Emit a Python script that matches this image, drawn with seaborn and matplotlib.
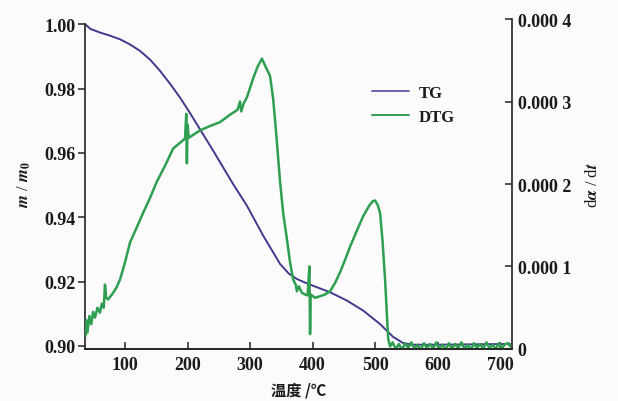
import matplotlib
matplotlib.use("Agg")
import matplotlib.pyplot as plt
from matplotlib.lines import Line2D
import seaborn as sns
import pandas as pd

# ---------------- data ----------------
tg_temp = [36, 45, 60, 75, 92, 108, 124, 140, 156, 172, 188, 202, 215, 228, 241,
           257, 273, 295, 321, 348, 362, 375, 388, 401, 428, 455, 481, 508, 529,
           545, 560, 600, 650, 700, 716]
tg_mass = [1.000, 0.9985, 0.9974, 0.9965, 0.9953, 0.9937, 0.9917, 0.9890, 0.9855,
           0.9815, 0.9772, 0.9730, 0.9689, 0.9648, 0.9607, 0.9555, 0.9503, 0.9436,
           0.9343, 0.9255, 0.9225, 0.9208, 0.9197, 0.9187, 0.9167, 0.9141, 0.9110,
           0.9068, 0.9028, 0.9009, 0.9004, 0.9004, 0.9005, 0.9006, 0.9006]

dtg_temp = [37, 38, 40, 43, 46, 49, 52, 56, 60, 63, 66, 68, 70, 73, 77, 81, 86, 92,
            100, 108, 118, 129, 140, 151, 164, 177, 188, 196, 198, 199, 200, 202,
            210, 220, 235, 252, 268, 280, 284, 286, 290, 295, 305, 312, 319, 325,
            332, 337, 342, 348, 353, 359, 364, 369, 373, 375, 378, 383, 388, 392,
            395, 396, 397, 404, 412, 420, 428, 436, 444, 452, 460, 470, 481, 490,
            496, 500, 504, 508, 512, 516, 519, 521, 524,
            528, 533, 538, 543, 548, 553, 558, 563, 568, 573, 578, 583, 588, 593,
            598, 603, 608, 613, 618, 623, 628, 633, 638, 643, 648, 653, 658, 663,
            668, 673, 678, 683, 688, 693, 698, 703, 708, 713, 716]
dtg_rate_e4 = [0.16, 0.35, 0.20, 0.40, 0.30, 0.45, 0.38, 0.50, 0.44, 0.55, 0.50,
               0.78, 0.62, 0.60, 0.64, 0.68, 0.74, 0.84, 1.05, 1.29, 1.46, 1.65,
               1.83, 2.03, 2.22, 2.43, 2.50, 2.55, 2.85, 2.25, 2.72, 2.56, 2.60,
               2.65, 2.70, 2.75, 2.84, 2.90, 3.00, 2.88, 2.98, 3.05, 3.28, 3.42,
               3.52, 3.42, 3.31, 3.03, 2.60, 2.03, 1.65, 1.33, 1.05, 0.84, 0.78,
               0.70, 0.76, 0.68, 0.66, 0.65, 1.00, 0.18, 0.66, 0.62, 0.64, 0.66,
               0.70, 0.80, 0.93, 1.08, 1.24, 1.42, 1.61, 1.73, 1.79, 1.80, 1.75,
               1.65, 1.30, 0.84, 0.40, 0.12, 0.03,
               0.08, 0.00, 0.06, -0.01, 0.07, 0.01, 0.08, 0.00, 0.05, -0.01, 0.07,
               0.01, 0.06, 0.00, 0.08, 0.01, 0.05, -0.01, 0.07, 0.00, 0.06, 0.01,
               0.08, 0.00, 0.05, -0.01, 0.07, 0.01, 0.06, 0.00, 0.08, 0.01, 0.05,
               0.00, 0.07, 0.01, 0.06, 0.07, 0.03]

x_ticks = [100, 200, 300, 400, 500, 600, 700]
left_ticks = [0.90, 0.92, 0.94, 0.96, 0.98, 1.00]
left_tick_labels = ["0.90", "0.92", "0.94", "0.96", "0.98", "1.00"]
right_ticks = [0.0, 0.0001, 0.0002, 0.0003, 0.0004]
right_tick_labels = ["0", "0.000 1", "0.000 2", "0.000 3", "0.000 4"]

series_names = ["TG", "DTG"]
x_label = "温度 /℃"
left_label = r"$m$ / $m_0$"
right_label = r"d$\alpha$ / d$t$"

# ---------------- style ----------------
sns.set_theme(style="white")
plt.rcParams["font.family"] = ["Liberation Serif", "Noto Sans CJK SC", "DejaVu Sans"]
plt.rcParams["mathtext.fontset"] = "stix"
plt.rcParams["font.weight"] = "bold"

tg_color = "#3f3a8e"
dtg_color = "#2e9e50"
bg = "#fbfbfb"

fig = plt.figure(figsize=(6.18, 4.02), dpi=100, facecolor=bg)
ax = fig.add_axes([0.1375, 0.1294, 0.691, 0.8208])
ax.set_facecolor(bg)
ax2 = ax.twinx()

tg_df = pd.DataFrame({"T": tg_temp, "m": tg_mass})
dtg_df = pd.DataFrame({"T": dtg_temp, "r": [v * 1e-4 for v in dtg_rate_e4]})

sns.lineplot(data=tg_df, x="T", y="m", ax=ax, color=tg_color, linewidth=1.4,
             estimator=None, legend=False)
sns.lineplot(data=dtg_df, x="T", y="r", ax=ax2, color=dtg_color, linewidth=1.8,
             estimator=None, legend=False)

ax.set_xlim(36, 719)
ax.set_ylim(0.89907, 1.0016)
ax2.set_ylim(0, 0.0004)

ax.set_xticks(x_ticks)
ax.set_xticklabels([str(t) for t in x_ticks])
ax.set_yticks(left_ticks)
ax.set_yticklabels(left_tick_labels)
ax2.set_yticks(right_ticks)
ax2.set_yticklabels(right_tick_labels)

tick_fs = 13
ax.tick_params(axis="x", direction="in", length=5, width=1.1, colors="#222222",
               labelsize=tick_fs, pad=5, bottom=True)
ax.tick_params(axis="y", direction="out", length=5, width=1.1, colors="#222222",
               labelsize=tick_fs, pad=2, left=True)
ax2.tick_params(axis="y", direction="in", length=5, width=1.1, colors="#222222",
                labelsize=tick_fs, pad=4, right=True)
for lab in ax.get_xticklabels() + ax.get_yticklabels() + ax2.get_yticklabels():
    lab.set_fontweight("bold")
    lab.set_color("#1a1a1a")

for a in (ax, ax2):
    a.spines["top"].set_visible(False)
    for s in ("left", "right", "bottom"):
        a.spines[s].set_color("#222222")
        a.spines[s].set_linewidth(1.2)
ax.spines["left"].set_bounds(0.89907, 1.0)
ax2.spines["left"].set_visible(False)
ax.spines["right"].set_visible(False)

ax.set_xlabel(x_label, family=["Noto Sans CJK SC", "DejaVu Sans"], fontweight="bold",
              fontsize=11, labelpad=6, color="#1a1a1a")
ax.set_ylabel(left_label, fontsize=12, labelpad=8, color="#1a1a1a")
ax2.set_ylabel(right_label, fontsize=12, labelpad=10, rotation=90, color="#1a1a1a")

handles = [Line2D([], [], color="#6a62b0", linewidth=1.4),
           Line2D([], [], color=dtg_color, linewidth=1.4)]
leg = ax.legend(handles, series_names, loc="upper left", bbox_to_anchor=(0.638, 0.845),
                frameon=False, fontsize=12, handlelength=2.2, labelspacing=0.45,
                handletextpad=0.6)
for t in leg.get_texts():
    t.set_fontweight("bold")
    t.set_color("#1a1a1a")

fig.savefig("out.png", dpi=100, facecolor=bg)
